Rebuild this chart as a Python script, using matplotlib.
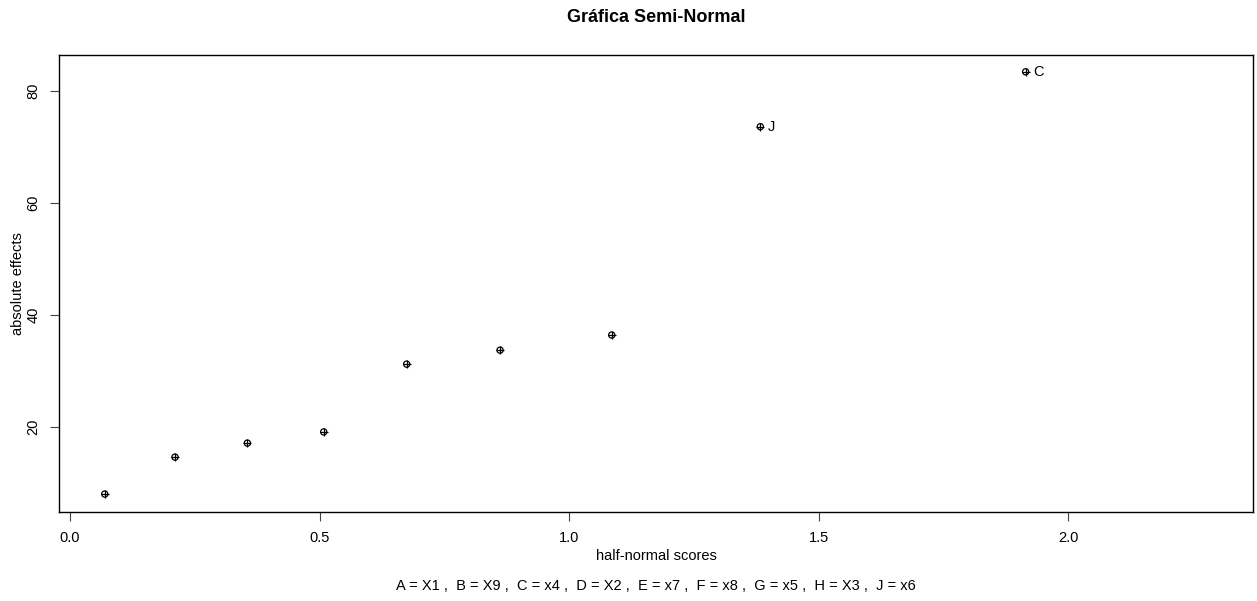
import matplotlib
matplotlib.use('Agg')
import matplotlib.pyplot as plt

plt.rcParams['font.family'] = ['Liberation Sans', 'DejaVu Sans']

# half-normal scores vs absolute effects
scores = [0.0697, 0.2104, 0.3554, 0.5083, 0.6745, 0.8616, 1.0853, 1.3830, 1.9145]
effects = [8.0, 14.6, 17.1, 19.1, 31.2, 33.7, 36.4, 73.6, 83.4]
point_labels = ['', '', '', '', '', '', '', 'J', 'C']
legend_text = ("A = X1 ,  B = X9 ,  C = x4 ,  D = X2 ,  E = x7 ,  "
               "F = x8 ,  G = x5 ,  H = X3 ,  J = x6")
xticks = [0.0, 0.5, 1.0, 1.5, 2.0]
yticks = [20, 40, 60, 80]

W, H = 1257, 601
fig = plt.figure(figsize=(W / 100, H / 100), dpi=100)
ax = fig.add_axes([59 / W, 1 - 512 / H, (1253 - 59) / W, (512 - 55) / H])

ax.scatter(scores, effects, s=20, marker='o', facecolors='none',
           edgecolors='black', linewidths=0.9, zorder=3)
ax.scatter(scores, effects, s=28, marker='+', color='black',
           linewidths=0.9, zorder=3)
for x, y, lab in zip(scores, effects, point_labels):
    if lab:
        ax.annotate(lab, (x, y), xytext=(5.5, 0), textcoords='offset points',
                    ha='left', va='center', fontsize=10.5)

ax.set_xlim(-0.022, 2.37)
ax.set_ylim(4.8, 86.4)
ax.set_xticks(xticks)
ax.set_xticklabels([f'{t:.1f}' for t in xticks])
ax.set_yticks(yticks)
ax.set_yticklabels([str(t) for t in yticks], rotation=90, va='center')
ax.tick_params(direction='out', length=6.5, width=0.8, labelsize=10.5,
               color='#444444', pad=7)
for sp in ax.spines.values():
    sp.set_linewidth(1.0)
    sp.set_color('black')

ax.set_xlabel('half-normal scores', fontsize=10.5, labelpad=3)
ax.set_ylabel('absolute effects', fontsize=10.5, labelpad=1)

fig.text(656 / W, 1 - 18 / H, 'Gráfica Semi-Normal', ha='center', va='center',
         fontsize=13, fontweight='bold')
fig.text(656 / W, 1 - 586 / H, legend_text, ha='center', va='center',
         fontsize=10.5)

fig.savefig('out.png', dpi=100)
